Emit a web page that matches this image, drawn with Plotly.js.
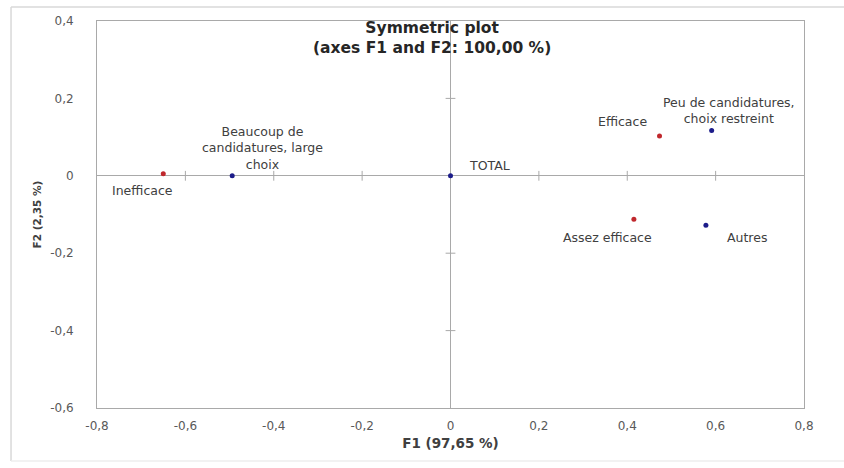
<!DOCTYPE html>
<html>
<head>
<meta charset="utf-8">
<script src="https://cdn.plot.ly/plotly-3.0.1.min.js"></script>
<style>html,body{margin:0;padding:0;background:#fff;overflow:hidden;}#chart{width:844px;height:468px;}</style>
</head>
<body>
<div id="chart"></div>
<script>
// Row points (red)
const rowLabels = ["Inefficace", "Efficace", "Assez efficace"];
const rowF1 = [-0.650, 0.473, 0.415];
const rowF2 = [0.005, 0.103, -0.112];

// Column points (blue)
const colLabels = ["Beaucoup de<br>candidatures, large<br>choix", "TOTAL", "Peu de candidatures,<br>choix restreint", "Autres"];
const colF1 = [-0.494, 0.000, 0.591, 0.578];
const colF2 = [0.000, 0.000, 0.117, -0.128];

// Axis ticks
const xTickVals = [-0.8, -0.6, -0.4, -0.2, 0, 0.2, 0.4, 0.6, 0.8];
const xTickText = ["-0,8", "-0,6", "-0,4", "-0,2", "0", "0,2", "0,4", "0,6", "0,8"];
const yTickVals = [-0.6, -0.4, -0.2, 0, 0.2, 0.4];
const yTickText = ["-0,6", "-0,4", "-0,2", "0", "0,2", "0,4"];

// Label offsets in pixels (style), same order as the labels
const rowOffsets = [[-21, 17], [-37, -14], [-26, 18]];
const colOffsets = [[30, -28], [39, -10], [17, -20], [41, 12]];

const FONT = "DejaVu Sans, Verdana, sans-serif";
const GRID = "#a9a9a9";
const FRAME = "#d9d9d9";

// cross ticks on the zero lines
const innerX = xTickVals.filter(v => v !== 0 && Math.abs(v) < 0.8);
const innerY = yTickVals.filter(v => v !== 0 && v > -0.6 && v < 0.4);

const traces = [
  {x: innerX, y: innerX.map(() => 0), mode: "markers", type: "scatter", hoverinfo: "skip",
   marker: {symbol: "line-ns-open", size: 7, color: GRID, line: {color: GRID, width: 1}}, showlegend: false},
  {x: innerY.map(() => 0), y: innerY, mode: "markers", type: "scatter", hoverinfo: "skip",
   marker: {symbol: "line-ew-open", size: 7, color: GRID, line: {color: GRID, width: 1}}, showlegend: false},
  {x: rowF1, y: rowF2, mode: "markers", type: "scatter", name: "Rows",
   marker: {color: "#c0282d", size: 5}, showlegend: false},
  {x: colF1, y: colF2, mode: "markers", type: "scatter", name: "Columns",
   marker: {color: "#1c1c8a", size: 5}, showlegend: false}
];

const annotations = [];
rowLabels.forEach((t, i) => annotations.push({
  x: rowF1[i], y: rowF2[i], xref: "x", yref: "y", text: t, showarrow: false,
  xshift: rowOffsets[i][0], yshift: -rowOffsets[i][1],
  font: {family: FONT, size: 12.5, color: "#404040"}
}));
colLabels.forEach((t, i) => annotations.push({
  x: colF1[i], y: colF2[i], xref: "x", yref: "y", text: t, showarrow: false,
  xshift: colOffsets[i][0], yshift: -colOffsets[i][1],
  font: {family: FONT, size: 12.5, color: "#404040"}
}));

const layout = {
  width: 844, height: 468,
  margin: {l: 97, r: 40, t: 21, b: 60, pad: 0},
  paper_bgcolor: "#ffffff", plot_bgcolor: "#ffffff",
  title: {
    text: "<b>Symmetric plot<br>(axes F1 and F2: 100,00 %)</b>",
    font: {family: FONT, size: 15.5, color: "#262626"},
    x: 0.474, xref: "paper", xanchor: "center",
    y: 0.969, yref: "paper", yanchor: "top"
  },
  xaxis: {
    range: [-0.8, 0.8], tickvals: xTickVals, ticktext: xTickText,
    showgrid: false, zeroline: true, zerolinecolor: GRID, zerolinewidth: 1,
    showline: true, mirror: true, linecolor: GRID, linewidth: 1,
    ticks: "", ticklabelstandoff: 7,
    tickfont: {family: FONT, size: 12, color: "#595959"},
    title: {text: "<b>F1 (97,65 %)</b>", font: {family: FONT, size: 13.5, color: "#404040"}, standoff: 6}
  },
  yaxis: {
    range: [-0.6, 0.4], tickvals: yTickVals, ticktext: yTickText,
    showgrid: false, zeroline: true, zerolinecolor: GRID, zerolinewidth: 1,
    showline: true, mirror: true, linecolor: GRID, linewidth: 1,
    ticks: "", ticklabelstandoff: 20,
    tickfont: {family: FONT, size: 12, color: "#595959"},
    title: {text: "<b>F2 (2,35 %)</b>", font: {family: FONT, size: 10.5, color: "#404040"}, standoff: 6}
  },
  annotations: annotations,
  shapes: [
    {type: "line", xref: "paper", yref: "paper", x0: -0.1216, x1: -0.1216, y0: -0.137, y1: 1.036,
     line: {color: FRAME, width: 1.5}, layer: "below"},
    {type: "line", xref: "paper", yref: "paper", x0: -0.1216, x1: 1.2, y0: 1.036, y1: 1.036,
     line: {color: FRAME, width: 1.5}, layer: "below"},
    {type: "line", xref: "paper", yref: "paper", x0: -0.1216, x1: 1.2, y0: -0.137, y1: -0.137,
     line: {color: "#eeeeee", width: 1.5}, layer: "below"}
  ],
  showlegend: false
};

Plotly.newPlot("chart", traces, layout, {displayModeBar: false, staticPlot: true});
</script>
</body>
</html>
